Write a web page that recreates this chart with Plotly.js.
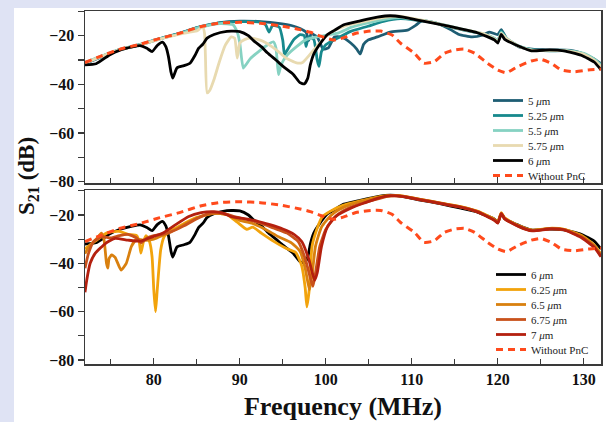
<!DOCTYPE html>
<html>
<head>
<meta charset="utf-8">
<script src="https://cdn.plot.ly/plotly-3.0.1.min.js"></script>
<style>
html,body{margin:0;padding:0;background:#dfe3f4;width:606px;height:422px;overflow:hidden;}
#panel{position:absolute;left:14px;top:8px;width:592px;height:414px;background:#ffffff;}
#chart{position:absolute;left:0;top:0;width:606px;height:422px;}
</style>
</head>
<body>
<div id="panel"></div>
<div id="chart"></div>
<script>
// ---------- data (frequency in MHz, S21 in dB) ----------
const freqNoPnC = [72.0,73.7,76.0,78.4,80.7,83.0,85.4,87.7,90.0,92.4,94.7,97.0,98.2,99.4,100.9,102.1,103.5,105.2,106.4,107.7,108.7,110.3,111.4,112.6,113.8,114.9,116.1,117.3,118.8,120.0,121.0,122.3,123.9,125.0,126.2,127.4,128.9,130.5,132.0];
const dbNoPnC   = [-31.0,-28.6,-25.6,-23.5,-21.1,-19.0,-16.3,-14.8,-14.5,-14.9,-15.9,-17.5,-18.6,-20.2,-21.8,-20.8,-19.0,-18.1,-18.1,-19.7,-23.1,-27.2,-31.3,-30.7,-27.2,-25.9,-25.5,-27.2,-31.3,-34.1,-35.2,-32.7,-30.4,-29.7,-31.3,-34.1,-34.8,-34.1,-33.7];

const freq6 = [72.0,73.3,74.9,76.0,77.5,78.4,79.2,79.8,80.4,81.0,81.4,81.7,82.0,82.2,82.7,83.5,84.2,84.8,85.2,85.7,86.2,87.0,88.5,90.0,91.0,91.6,92.5,93.2,94.2,95.0,96.2,97.0,97.5,97.9,98.2,98.6,99.2,100.2,101.0,102.1,104.0,106.0,107.5,109.0,111.0,113.4,115.7,117.7,119.6,120.0,120.4,120.8,122.4,123.9,126.0,127.7,129.7,131.2,132.0];
const db6   = [-32.0,-31.5,-27.8,-26.0,-24.6,-24.1,-25.2,-26.5,-24.0,-22.6,-24.5,-28.5,-35.0,-37.4,-33.2,-32.3,-31.3,-28.0,-25.2,-23.5,-21.0,-19.5,-18.2,-18.3,-20.0,-22.0,-24.5,-27.0,-30.0,-32.5,-35.8,-39.3,-39.8,-37.5,-32.0,-27.5,-24.0,-19.5,-17.8,-15.5,-13.9,-12.4,-11.8,-12.4,-13.8,-15.4,-17.2,-18.9,-21.7,-23.0,-19.5,-21.5,-24.2,-26.2,-25.8,-26.2,-28.0,-30.8,-34.0];

const freq5 = [72.0,73.7,76.0,78.4,80.7,83.0,85.4,87.7,90.0,92.4,94.7,96.0,97.0,97.7,98.0,98.3,99.0,99.7,100.3,101.0,101.8,102.9,103.6,104.0,104.4,104.9,106.0,107.5,109.5,110.5,111.2,113.0,114.5,115.5,117.0,118.2,119.0,120.0,120.4,121.0,122.4,124.0,126.0,128.5,130.0,131.2,132.0];
const db5   = [-31.5,-29.0,-25.8,-23.8,-21.3,-19.0,-16.4,-14.6,-14.0,-14.2,-15.0,-15.8,-17.0,-18.5,-22.0,-19.2,-20.5,-25.5,-25.0,-20.5,-20.5,-23.0,-25.5,-27.5,-23.5,-21.8,-20.5,-18.5,-17.7,-15.6,-13.8,-15.0,-17.5,-19.5,-20.5,-19.8,-18.5,-19.5,-17.5,-21.0,-24.5,-25.5,-25.8,-26.0,-27.5,-29.5,-31.5];

const freq525 = [72.0,73.7,76.0,78.4,80.7,83.0,85.4,87.7,90.0,92.4,93.0,93.4,93.8,94.6,95.0,95.2,95.5,96.3,97.0,97.5,97.7,98.0,98.6,99.0,99.2,99.5,100.0,101.4,102.9,104.9,106.7,108.7,110.5,112.5,114.5,116.5,118.5,119.6,120.0,120.4,121.0,122.4,124.0,126.0,128.0,130.0,131.3,132.0];
const db525   = [-31.2,-28.8,-25.7,-23.6,-21.2,-19.0,-16.3,-14.7,-14.2,-14.4,-15.5,-18.5,-15.8,-16.5,-22.0,-27.8,-26.0,-21.5,-19.6,-20.0,-24.4,-20.5,-21.5,-30.0,-32.6,-26.5,-23.7,-20.9,-18.2,-16.1,-14.1,-13.0,-13.6,-14.6,-16.5,-18.0,-19.5,-21.2,-22.5,-18.0,-21.2,-24.2,-25.8,-26.2,-26.2,-27.5,-30.0,-32.0];

const freq55 = [72.0,73.7,76.0,78.4,80.7,83.0,85.4,87.7,89.2,89.7,90.0,90.4,90.8,91.2,92.4,93.2,93.9,94.2,94.5,94.8,95.5,96.6,97.7,99.0,100.5,101.5,103.0,105.0,107.0,108.7,110.5,112.5,114.5,116.5,118.5,119.6,120.0,120.4,121.0,122.4,124.0,126.0,128.0,130.0,131.3,132.0];
const db55   = [-31.0,-28.7,-25.7,-23.7,-21.3,-19.2,-16.5,-15.0,-15.5,-18.5,-23.0,-33.3,-31.5,-29.5,-25.9,-23.8,-22.5,-25.0,-36.0,-32.0,-28.0,-24.5,-21.6,-20.5,-19.5,-18.8,-16.5,-14.6,-13.2,-12.6,-13.4,-14.5,-16.2,-17.8,-19.4,-21.0,-22.2,-18.6,-21.0,-24.2,-25.8,-26.0,-26.0,-27.2,-29.8,-32.0];

const freq575 = [72.0,73.7,76.0,78.4,80.7,83.0,84.3,85.0,85.4,85.7,85.9,86.0,86.2,86.5,87.0,87.6,88.3,89.0,89.4,89.7,90.0,90.6,91.4,92.7,94.2,95.4,96.6,97.3,98.8,100.0,101.2,102.9,104.9,107.0,108.6,110.5,112.5,114.5,116.5,118.5,119.6,120.0,120.4,121.0,122.4,124.0,126.0,128.0,130.0,131.3,132.0];
const db575   = [-31.3,-28.8,-25.8,-23.8,-21.4,-19.4,-18.4,-18.0,-17.0,-16.5,-19.0,-28.0,-43.5,-42.5,-38.0,-31.0,-24.0,-20.5,-21.0,-29.2,-23.0,-21.5,-21.0,-22.3,-25.7,-29.2,-31.2,-31.0,-25.0,-20.3,-17.5,-15.3,-13.8,-12.4,-12.0,-13.2,-14.6,-16.3,-17.8,-19.4,-21.4,-22.6,-19.0,-21.2,-24.3,-26.0,-26.0,-26.2,-27.6,-30.3,-32.8];

const freq625 = [72.0,73.5,74.5,75.0,76.0,77.0,78.0,78.3,78.5,78.8,79.1,79.5,79.8,80.0,80.2,80.4,80.8,81.2,82.0,83.0,85.0,87.0,88.5,89.7,90.8,91.5,92.5,94.0,95.5,96.5,97.2,97.6,97.8,98.1,98.4,99.0,99.6,100.5,102.0,104.0,106.0,107.5,108.5,110.5,113.0,115.5,117.7,119.6,120.0,120.4,120.8,122.4,124.0,126.0,127.7,129.7,131.2,132.0];
const db625   = [-34.0,-30.0,-27.5,-27.0,-26.8,-28.0,-28.5,-31.0,-35.8,-31.0,-28.5,-31.0,-37.3,-51.0,-60.0,-51.0,-34.5,-29.0,-26.5,-24.5,-21.0,-19.3,-19.8,-23.0,-25.9,-25.0,-27.5,-31.0,-34.0,-35.5,-41.0,-50.0,-58.0,-50.0,-33.0,-25.5,-20.7,-18.5,-16.0,-14.2,-12.6,-11.9,-12.0,-13.2,-14.9,-16.4,-18.5,-21.8,-23.0,-19.0,-21.2,-24.4,-26.3,-25.5,-25.9,-28.4,-32.4,-36.2];

const freq65 = [72.0,72.5,73.3,73.9,74.2,74.5,74.65,74.8,75.1,75.5,76.2,76.8,77.4,78.0,79.0,80.0,81.0,82.5,84.0,85.5,87.0,88.5,90.0,91.5,93.0,94.5,96.0,97.0,97.6,98.1,98.4,98.8,99.5,100.5,101.5,103.0,105.0,107.0,108.0,109.0,111.0,113.4,115.7,117.7,119.6,120.0,120.4,120.8,122.4,124.0,126.0,127.7,129.7,131.2,132.0];
const db65   = [-36.0,-33.0,-30.0,-27.5,-30.0,-40.0,-42.0,-38.0,-36.5,-37.5,-42.8,-40.0,-33.0,-30.0,-30.5,-30.0,-28.5,-26.0,-23.0,-20.5,-19.2,-19.8,-22.2,-23.5,-26.0,-29.0,-31.5,-35.0,-42.0,-51.0,-45.0,-33.0,-25.0,-20.5,-17.8,-15.5,-13.6,-12.2,-11.9,-12.2,-13.5,-15.1,-16.6,-18.6,-22.0,-23.2,-19.2,-21.4,-24.5,-26.4,-25.6,-26.0,-28.7,-32.7,-36.5];

const freq675 = [72.0,72.4,73.0,74.0,75.0,76.0,77.0,78.0,78.5,79.2,80.0,81.0,82.0,83.5,85.0,86.5,88.0,89.5,91.0,92.5,94.0,95.5,96.8,97.6,98.2,98.5,98.8,99.3,100.0,101.0,102.0,103.5,105.5,107.2,109.0,111.0,113.4,115.7,117.7,119.6,120.0,120.4,120.8,122.4,124.0,126.0,127.7,129.7,131.2,132.0];
const db675   = [-42.0,-36.0,-31.0,-29.0,-29.5,-28.5,-28.0,-29.5,-31.5,-29.5,-28.5,-28.0,-27.0,-24.5,-21.5,-19.3,-19.2,-20.8,-22.0,-23.5,-25.5,-27.5,-31.0,-38.0,-46.0,-49.5,-44.0,-33.0,-26.0,-21.0,-18.3,-16.0,-13.9,-12.3,-12.3,-13.6,-15.2,-16.7,-18.7,-22.1,-23.3,-19.3,-21.5,-24.6,-26.5,-25.7,-26.1,-29.0,-33.0,-36.9];

const freq7 = [72.0,72.2,72.6,73.2,74.4,75.5,77.0,78.5,79.5,81.0,82.5,84.0,85.5,87.0,88.0,89.0,90.5,92.0,93.5,95.0,96.3,97.2,98.0,98.7,99.0,99.5,100.2,101.2,102.9,104.5,106.0,107.5,109.0,111.0,113.4,115.7,117.7,119.6,120.0,120.4,120.8,122.4,124.0,126.0,127.7,129.7,131.2,132.0];
const db7   = [-52.0,-47.0,-40.0,-35.8,-31.7,-29.7,-30.4,-30.8,-29.5,-27.6,-24.1,-20.7,-19.0,-18.6,-19.2,-20.7,-21.5,-22.5,-24.0,-25.8,-28.0,-31.0,-38.0,-47.0,-44.0,-33.0,-24.8,-20.5,-17.2,-15.0,-13.1,-12.0,-12.4,-13.7,-15.3,-16.8,-18.8,-22.2,-23.4,-19.4,-21.6,-24.7,-26.6,-25.8,-26.2,-29.3,-33.4,-37.3];

const labelsTop    = ['5 <i>μ</i>m','5.25 <i>μ</i>m','5.5 <i>μ</i>m','5.75 <i>μ</i>m','6 <i>μ</i>m','Without PnC'];
const labelsBottom = ['6 <i>μ</i>m','6.25 <i>μ</i>m','6.5 <i>μ</i>m','6.75 <i>μ</i>m','7 <i>μ</i>m','Without PnC'];
const xTickVals = [80,90,100,110,120,130];

// ---------- styles ----------
const colTop = ['#1e5d73','#17898d','#86d2c2','#e8dab0','#000000','#ff4a1c'];
const colBot = ['#000000','#f2a30c','#d9800f','#c9521b','#b4200f','#ff4a1c'];
const LW = 2.8;
const serif = 'Liberation Serif, Times New Roman, serif';

function tr(x, y, name, color, ax, leg, dashed){
  return {
    x: x, y: y, name: name, type: 'scatter', mode: 'lines',
    xaxis: ax[0], yaxis: ax[1], legend: leg,
    line: {color: color, width: dashed ? 3 : LW, dash: dashed ? '7px,5px' : 'solid', shape: 'spline', smoothing: 0.5},
    hoverinfo: 'skip'
  };
}
const A1 = ['x','y'], A2 = ['x2','y2'];
const data = [
  tr(freq5,   db5,   labelsTop[0], colTop[0], A1, 'legend'),
  tr(freq525, db525, labelsTop[1], colTop[1], A1, 'legend'),
  tr(freq55,  db55,  labelsTop[2], colTop[2], A1, 'legend'),
  tr(freq575, db575, labelsTop[3], colTop[3], A1, 'legend'),
  tr(freq6,   db6,   labelsTop[4], colTop[4], A1, 'legend'),
  tr(freqNoPnC, dbNoPnC, labelsTop[5], colTop[5], A1, 'legend', true),
  tr(freq6,   db6,   labelsBottom[0], colBot[0], A2, 'legend2'),
  tr(freq625, db625, labelsBottom[1], colBot[1], A2, 'legend2'),
  tr(freq65,  db65,  labelsBottom[2], colBot[2], A2, 'legend2'),
  tr(freq675, db675, labelsBottom[3], colBot[3], A2, 'legend2'),
  tr(freq7,   db7,   labelsBottom[4], colBot[4], A2, 'legend2'),
  tr(freqNoPnC, dbNoPnC, labelsBottom[5], colBot[5], A2, 'legend2', true)
];

const W = 606, H = 422;
const xdom = [85/W, 601/W];
const tickFont = {family: serif, size: 16, weight: 'bold', color: '#111'};
function xax(showLabels, anchor){
  return {
    domain: xdom, range: [72, 132], anchor: anchor, showgrid: false, zeroline: false,
    showline: true, linecolor: '#3a3a3a', linewidth: 1.5, mirror: true,
    tickmode: 'array', tickvals: xTickVals, ticktext: xTickVals.map(String),
    ticks: 'inside', ticklen: 6, tickwidth: 1.3, tickcolor: '#3a3a3a',
    minor: {tickmode: 'linear', tick0: 75, dtick: 10, ticks: 'inside', ticklen: 5, tickwidth: 1.3, tickcolor: '#3a3a3a'},
    showticklabels: showLabels, tickfont: tickFont, automargin: false
  };
}
function yax(dom, rng, anchor){
  return {
    domain: dom, range: rng, anchor: anchor, showgrid: false, zeroline: false,
    showline: true, linecolor: '#3a3a3a', linewidth: 1.5, mirror: true,
    tickmode: 'linear', tick0: -80, dtick: 20,
    ticks: 'outside', ticklen: 6, tickwidth: 1.3, tickcolor: '#3a3a3a',
    minor: {dtick: 10, ticks: 'outside', ticklen: 6, tickwidth: 1.3, tickcolor: '#3a3a3a'},
    tickfont: tickFont, automargin: false
  };
}
const xa2 = xax(true, 'y2');
xa2.title = {text: 'Frequency (MHz)', font: {family: serif, size: 26, weight: 'bold', color: '#111'}, standoff: 10};

const legFont = {family: serif, size: 11, color: '#222'};
const layout = {
  width: W, height: H,
  margin: {l: 0, r: 0, t: 0, b: 0},
  paper_bgcolor: 'rgba(0,0,0,0)', plot_bgcolor: '#ffffff',
  showlegend: true,
  xaxis: xax(false, 'y'),
  yaxis: yax([1-183/H, 1-11/H], [-80.5, -9.85], 'x'),
  xaxis2: xa2,
  yaxis2: yax([1-364/H, 1-190/H], [-81.65, -9.66], 'x2'),
  legend: {x: 488/W, xanchor: 'left', y: 1-86/H, yanchor: 'top', bgcolor: 'rgba(0,0,0,0)', borderwidth: 0, font: legFont, tracegroupgap: 0},
  legend2: {x: 491/W, xanchor: 'left', y: 1-260/H, yanchor: 'top', bgcolor: 'rgba(0,0,0,0)', borderwidth: 0, font: legFont, tracegroupgap: 0},
  annotations: [{
    text: 'S<sub>21</sub> (dB)', textangle: -90, xref: 'paper', yref: 'paper',
    x: 28/W, y: 1-176/H, xanchor: 'center', yanchor: 'middle', showarrow: false,
    font: {family: serif, size: 23, weight: 'bold', color: '#111'}
  }]
};

function compactLegends(){
  ['legend','legend2'].forEach(function(id){
    const items = document.querySelectorAll('g.' + id + ' g.traces');
    if (!items.length) return;
    const m0 = /translate\(([-\d.]+)[ ,]+([-\d.]+)\)/.exec(items[0].getAttribute('transform') || '');
    if (!m0) return;
    const x0 = parseFloat(m0[1]), y0 = parseFloat(m0[2]);
    items.forEach(function(el, i){
      el.setAttribute('transform', 'translate(' + x0 + ',' + (y0 + i*15) + ')');
    });
  });
}

Plotly.newPlot('chart', data, layout, {staticPlot: true, displayModeBar: false}).then(compactLegends);
</script>
</body>
</html>
